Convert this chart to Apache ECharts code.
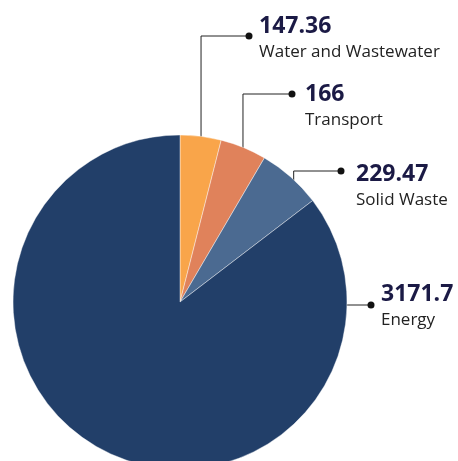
<!DOCTYPE html>
<html>
<head>
<meta charset="utf-8">
<script src="https://cdn.jsdelivr.net/npm/echarts@6/dist/echarts.min.js"></script>
<style>
  html, body { margin: 0; padding: 0; background: #ffffff; }
  #chart { width: 458px; height: 461px; }
</style>
</head>
<body>
<div id="chart"></div>
<script>
// Emissions by sector
const categories = ['Water and Wastewater', 'Transport', 'Solid Waste', 'Energy'];
const values = [147.36, 166, 229.47, 3171.7];
const valueLabels = ['147.36', '166', '229.47', '3171.7'];
const colors = ['#F9A54A', '#E0825B', '#4B6A91', '#223F69'];

// pie geometry (pixels)
const CX = 180, CY = 302, R = 167;

// where each leader line leaves its slice: share of the slice sweep, share of the radius
const anchorAlong = [0.57, 0.55, 0.75, 0.125];
const anchorRadius = [0.89, 0.96, 0.93, 0.975];

// callout placement: end dot and text block
const dotX = [249, 292, 341, 371];
const dotY = [36, 94, 171, 305];
const textX = [259, 305, 356, 381];
const textTop = [13, 81, 161, 281];

const total = values.reduce((a, b) => a + b, 0);
const starts = [];
let acc = 0;
values.forEach(v => { starts.push(acc); acc += v; });

// leader line points for each slice, derived from the slice angles
const linePoints = values.map((v, i) => {
  const a = ((starts[i] + v * anchorAlong[i]) / total) * Math.PI * 2; // clockwise from 12 o'clock
  const r = R * anchorRadius[i];
  const sx = CX + r * Math.sin(a);
  const sy = CY - r * Math.cos(a);
  return [[sx, sy], [sx, dotY[i]], [dotX[i], dotY[i]]];
});

const chart = echarts.init(document.getElementById('chart'), null, { renderer: 'canvas' });

chart.setOption({
  backgroundColor: '#ffffff',
  animation: false,
  series: [{
    type: 'pie',
    center: [CX, CY],
    radius: [0, R],
    startAngle: 90,
    clockwise: true,
    avoidLabelOverlap: false,
    itemStyle: { borderColor: 'rgba(255,255,255,0.7)', borderWidth: 0.6 },
    data: categories.map((name, i) => ({
      name: name,
      value: values[i],
      itemStyle: { color: colors[i] }
    })),
    label: {
      show: true,
      position: 'outside',
      formatter: p => '{v|' + valueLabels[p.dataIndex] + '}\n{n|' + p.name + '}',
      rich: {
        v: { fontFamily: 'Open Sans', fontWeight: 'bold', fontSize: 23, lineHeight: 26, color: '#1B1A45' },
        n: { fontFamily: 'Open Sans', fontSize: 17, lineHeight: 26, color: '#222222' }
      }
    },
    labelLine: {
      show: true,
      lineStyle: { color: '#222222', width: 1 }
    },
    labelLayout: p => ({
      x: textX[p.dataIndex],
      y: textTop[p.dataIndex],
      align: 'left',
      verticalAlign: 'top',
      labelLinePoints: linePoints[p.dataIndex]
    })
  }],
  graphic: linePoints.map(pts => ({
    type: 'circle',
    shape: { cx: pts[2][0], cy: pts[2][1], r: 3.5 },
    style: { fill: '#111111' },
    z: 10
  }))
});
</script>
</body>
</html>
